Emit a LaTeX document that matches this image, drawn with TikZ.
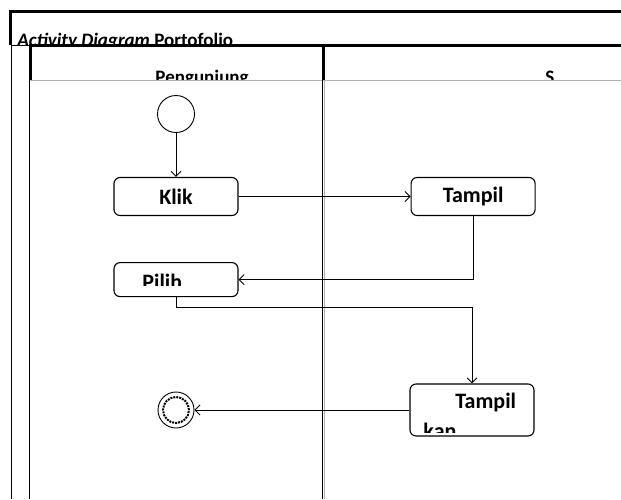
\documentclass[tikz,border=0pt]{standalone}
\usepackage{fontspec}
\setmainfont{Carlito}
\usetikzlibrary{positioning,arrows.meta}

\begin{document}
\begin{tikzpicture}[x=1pt, y=-1pt, >={Straight Barb[length=5pt,width=10pt]}, line width=0.9pt,
    font=\fontsize{19}{22}\selectfont\bfseries,
    act/.style={draw, rounded corners=6pt, line width=1.1pt, minimum width=124pt, minimum height=38pt, inner sep=0pt,
      font=\fontsize{22}{26}\selectfont\bfseries},
    acttext/.style={anchor=base west, inner sep=0pt, font=\fontsize{22}{26}\selectfont\bfseries},
    startnode/.style={draw, circle, minimum size=37pt, inner sep=0pt},
    endnode/.style={draw, circle, minimum size=36pt, inner sep=0pt}]
    \useasboundingbox (0,0) rectangle (621,499);
    % frame and swimlanes
    \draw[line width=3pt] (10,45) -- (10,11) -- (621,11);
    \draw (11,45) -- (11,499);
    \draw (11,45) -- (29,45);
    \draw (29,45) -- (29,499);
    \draw[line width=3pt] (29,45) -- (621,45);
    \draw[line width=3pt] (30.5,45) -- (30.5,80);
    \draw[line width=3pt] (323,45) -- (323,80);
    \draw[gray!60] (30,80) -- (621,80);
    \draw (322,80) -- (322,499);
    \draw[gray!60] (324,80) -- (324,499);
    % clipped labels
    \begin{scope}
      \clip (12,12) rectangle (621,44);
      \node[anchor=base west, inner sep=0pt] (title) at (17,46) {\textit{Activity Diagram} Portofolio};
    \end{scope}
    \begin{scope}
      \clip (32,46) rectangle (621,79.5);
      \node[anchor=base west, inner sep=0pt] (lane1) at (155,83) {Pengunjung};
      \node[anchor=base west, inner sep=0pt] (lane2) at (545,83) {S};
    \end{scope}

    \node[startnode] (start) at (176,114) {};
    \node[act, below=44pt of start] (klik) {Klik};
    \node[act, right=172pt of klik] (tampil) {Tampil};
    \node[act, minimum height=34pt, below=46pt of klik] (pilih) {};
    \node[act, minimum height=52pt] (tampilkan) at (472,410) {};
    \node[endnode] (end) at (klik |- tampilkan) {};
    \draw[densely dotted, line width=2pt] (end.center) circle (13pt);

    \begin{scope}
      \clip (115,261) rectangle (237,285);
      \node[acttext] (pilihtxt) at (142,289) {Pilih};
    \end{scope}
    \begin{scope}
      \clip (411,385) rectangle (533,432);
      \node[acttext] (tampilkantxt1) at (455,408) {Tampil};
      \node[acttext] (tampilkantxt2) at (423,438) {kan};
    \end{scope}

    \draw[->] (start) -- (klik);
    \draw[->] (klik) -- (tampil);
    \draw[->] (tampil.south) |- (pilih.east);
    \draw[->] (pilih.south) -- ++(0,10) -| (tampilkan.north);
    \draw[->] (tampilkan.west) -- (end);
  \end{tikzpicture}
\end{document}
